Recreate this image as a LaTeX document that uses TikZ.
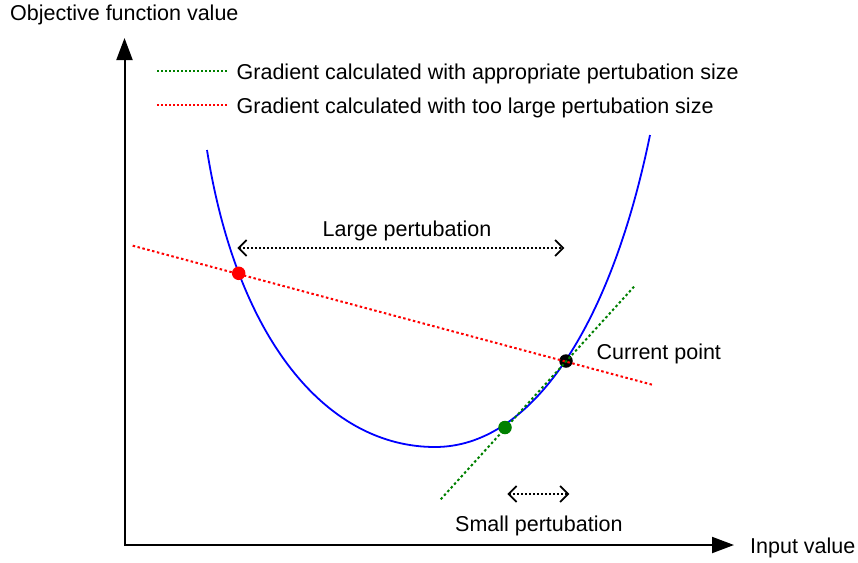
\documentclass[tikz,border=0pt]{standalone}
\usepackage{fontspec}
\setmainfont{Liberation Sans}
\usetikzlibrary{arrows.meta}
\definecolor{myred}{RGB}{255,0,0}
\definecolor{mygreen}{RGB}{0,128,0}
\begin{document}
\begin{tikzpicture}[x=1pt,y=-1pt,
  lbl/.style={inner sep=0pt,font=\fontsize{21.5}{26}\selectfont},
  axisline/.style={line width=2pt,line join=miter},
  curveline/.style={draw=blue,line width=1.8pt},
  reddot/.style={draw=myred,line width=2pt,dash pattern=on 2.5pt off 2.5pt},
  greendot/.style={draw=mygreen,line width=2pt,dash pattern=on 2.5pt off 2.5pt},
  legline/.style={line width=1.8pt,dash pattern=on 2pt off 2pt},
  dimarrow/.style={line width=1.8pt,dash pattern=on 2pt off 2pt,
    {Straight Barb[length=8pt,width=16pt,line width=1.8pt]}-{Straight Barb[length=8pt,width=16pt,line width=1.8pt]}},
  pt/.style={circle,inner sep=0pt,minimum size=13.5pt}
]
\useasboundingbox (0,0) rectangle (858,562);

% axes
\coordinate (ytip) at (124.5,38);
\coordinate (orig) at (124.5,545);
\coordinate (xtip) at (734,545);
\draw[axisline,{Triangle[length=22pt,width=16pt]}-{Triangle[length=22pt,width=16pt]}] (ytip) -- (orig) -- (xtip);

\node[lbl,anchor=base west] (ylab) at (10,20.7) {Objective function value};
\node[lbl,anchor=base west] (xlab) at (750,553.3) {Input value};

% legend
\coordinate (lg1) at (157,71);
\coordinate (lg2) at (227,71);
\coordinate (lr1) at (157,105);
\coordinate (lr2) at (227,105);
\draw[legline,color=mygreen] (lg1) -- (lg2);
\draw[legline,color=myred] (lr1) -- (lr2);
\node[lbl,anchor=base west] (leg1) at (236.5,79) {Gradient calculated with appropriate pertubation size};
\node[lbl,anchor=base west] (leg2) at (236.5,113.3) {Gradient calculated with too large pertubation size};

% curve
\draw[curveline] (207,150) .. controls (238,345) and (330,447) .. (435,447)
  .. controls (530,447) and (610,330) .. (650,135);

% points
\node[pt,fill=myred] (pred) at (238.7,273.3) {};
\node[pt,fill=mygreen] (pgreen) at (505,427.5) {};
\node[pt,fill=black] (pcur) at (566,361) {};

% gradient lines
\coordinate (r1) at (132.7,245.7);
\coordinate (r2) at (653.3,385);
\coordinate (g1) at (440.7,499.3);
\coordinate (g2) at (634,286.7);
\draw[reddot] (r1) -- (r2);
\draw[greendot] (g1) -- (g2);

% perturbation arrows
\coordinate (la1) at (237.3,248);
\coordinate (la2) at (564.3,248);
\draw[dimarrow] (la1) -- (la2);
\node[lbl,anchor=base] (llab) at (407,236) {Large pertubation};

\coordinate (sa1) at (507.3,494);
\coordinate (sa2) at (569.3,494);
\draw[dimarrow] (sa1) -- (sa2);
\node[lbl,anchor=base west] (slab) at (455,531.7) {Small pertubation};

\node[lbl,anchor=base west] (clab) at (596.5,359.3) {Current point};
\end{tikzpicture}
\end{document}
